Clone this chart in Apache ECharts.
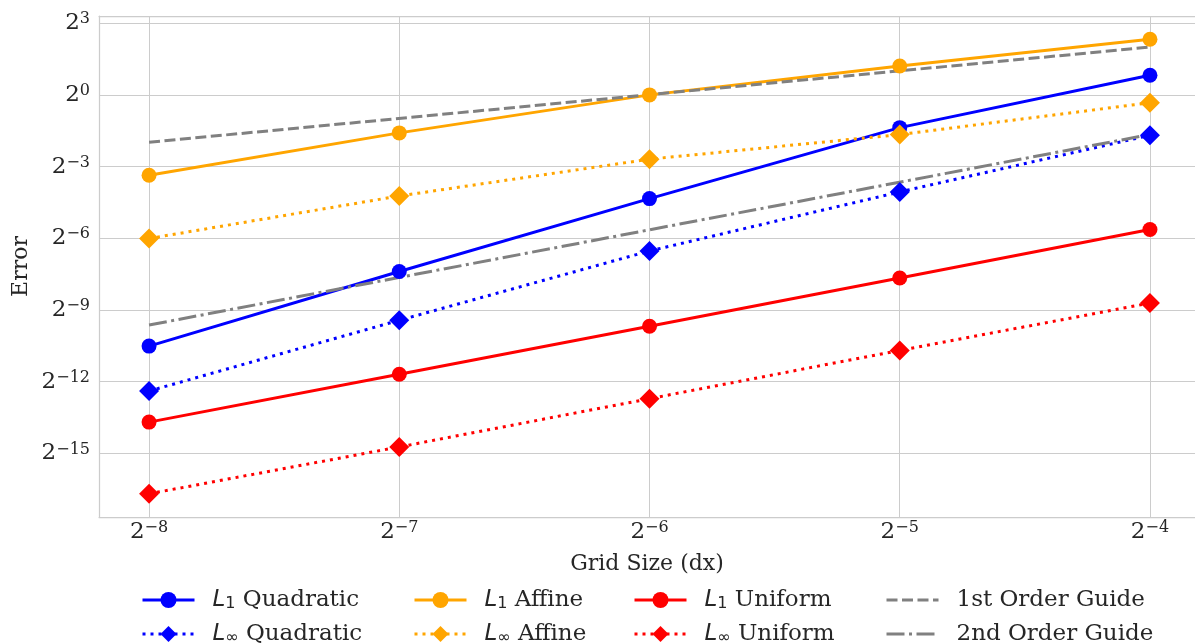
<!DOCTYPE html>
<html>
<head>
<meta charset="utf-8">
<script src="https://cdn.jsdelivr.net/npm/echarts@6/dist/echarts.min.js"></script>
<style>
html,body{margin:0;padding:0;background:#fff;}
#chart{width:1195px;height:644px;}
</style>
</head>
<body>
<div id="chart"></div>
<script>
// Grid size dx as log2 exponents (2^-8 ... 2^-4)
const gridSizeLog2 = [-8, -7, -6, -5, -4];
// Errors as log2 exponents
const l1QuadraticLog2   = [-10.51, -7.39, -4.34, -1.37, 0.82];
const linfQuadraticLog2 = [-12.39, -9.43, -6.53, -4.06, -1.69];
const l1AffineLog2      = [-3.36, -1.59, 0.00, 1.21, 2.33];
const linfAffineLog2    = [-6.01, -4.23, -2.69, -1.66, -0.33];
const l1UniformLog2     = [-13.69, -11.69, -9.68, -7.66, -5.63];
const linfUniformLog2   = [-16.69, -14.73, -12.71, -10.69, -8.71];
// Reference guides (endpoints at 2^-8 and 2^-4)
const guideX = [-8, -4];
const guide1Log2 = [-1.98, 2.0];
const guide2Log2 = [-9.63, -1.66];
// Tick exponents
const xTicks = [-8, -7, -6, -5, -4];
const yTicks = [-15, -12, -9, -6, -3, 0, 3];

const TXT = '#262626';
const GRID = '#cccccc';
const SERIF = 'DejaVu Serif';

function pair(xs, ys) { return xs.map((x, i) => [x, ys[i]]); }
function powLabel(v) {
  const e = Math.round(v);
  const s = e < 0 ? '\u2212' + (-e) : String(e);
  return '{b|2}{s|' + s + '}';
}
const powRich = {
  b: {fontFamily: SERIF, fontSize: 23, lineHeight: 24, color: TXT},
  s: {fontFamily: SERIF, fontSize: 16, lineHeight: 16, verticalAlign: 'top', color: TXT}
};

const W = 3;
const dotted = [3, 5];
const dashed = [11, 4.5];
const dashDot = [18, 4.5, 3, 4.5];

function mkSeries(name, ys, color, symbol, size, type) {
  return {
    name: name, type: 'line', data: pair(gridSizeLog2, ys),
    symbol: symbol, symbolSize: size, showSymbol: true,
    itemStyle: {color: color},
    lineStyle: {color: color, width: W, type: type},
    emphasis: {disabled: true}
  };
}

const series = [
  mkSeries('L1 Quadratic', l1QuadraticLog2, '#0000ff', 'circle', 15, 'solid'),
  mkSeries('Linf Quadratic', linfQuadraticLog2, '#0000ff', 'diamond', 20, dotted),
  mkSeries('L1 Affine', l1AffineLog2, '#ffa500', 'circle', 15, 'solid'),
  mkSeries('Linf Affine', linfAffineLog2, '#ffa500', 'diamond', 20, dotted),
  mkSeries('L1 Uniform', l1UniformLog2, '#ff0000', 'circle', 15, 'solid'),
  mkSeries('Linf Uniform', linfUniformLog2, '#ff0000', 'diamond', 20, dotted),
  {
    name: '1st Order Guide', type: 'line', data: pair(guideX, guide1Log2),
    symbol: 'none', itemStyle: {color: '#808080'},
    lineStyle: {color: '#808080', width: W, type: dashed}, emphasis: {disabled: true}
  },
  {
    name: '2nd Order Guide', type: 'line', data: pair(guideX, guide2Log2),
    symbol: 'none', itemStyle: {color: '#808080'},
    lineStyle: {color: '#808080', width: W, type: dashDot}, emphasis: {disabled: true}
  }
];

function legendFmt(name) {
  if (name.indexOf('L1 ') === 0) return '{i|L}{sub|1} ' + name.slice(3);
  if (name.indexOf('Linf ') === 0) return '{i|L}{sub|\u221e} ' + name.slice(5);
  return name;
}
function mkLegend(left, names) {
  return {
    orient: 'vertical', left: left, top: 588, height: 80, padding: 0,
    itemWidth: 52, itemHeight: 20, itemGap: 10,
    data: names, selectedMode: false,
    formatter: legendFmt,
    lineStyle: {width: 3},
    textStyle: {
      fontFamily: SERIF, fontSize: 23, color: TXT, lineHeight: 24,
      padding: [0, 0, 0, 13],
      rich: {
        i: {fontFamily: 'DejaVu Sans', fontStyle: 'italic', fontSize: 23, lineHeight: 24, color: TXT},
        sub: {fontFamily: 'DejaVu Sans', fontSize: 16, lineHeight: 14, verticalAlign: 'bottom', color: TXT}
      }
    }
  };
}
function guideItem(name) { return {name: name, itemStyle: {opacity: 0}}; }

const frameLine = {show: true, onZero: false, lineStyle: {color: GRID, width: 1.25}};

const option = {
  animation: false,
  backgroundColor: '#ffffff',
  grid: {left: 99, right: 0, top: 16, bottom: 127, show: false,
         containLabel: false, outerBoundsMode: 'none'},
  xAxis: [{
    type: 'value', min: -8.2, max: -3.82, position: 'bottom',
    name: 'Grid Size (dx)', nameLocation: 'middle', nameGap: 36, nameMoveOverlap: false,
    nameTextStyle: {fontFamily: SERIF, fontSize: 22, color: TXT},
    axisLine: frameLine, axisTick: {show: false, customValues: xTicks},
    axisLabel: {customValues: xTicks, formatter: powLabel, rich: powRich, margin: 3, color: TXT},
    splitLine: {show: true, lineStyle: {color: GRID, width: 1}}
  }, {
    type: 'value', min: -8.2, max: -3.82, position: 'top',
    axisLine: frameLine, axisTick: {show: false}, axisLabel: {show: false}, splitLine: {show: false}
  }],
  yAxis: {
    type: 'value', min: -17.66, max: 3.3,
    name: 'Error', nameLocation: 'middle', nameGap: 67, nameRotate: 90, nameMoveOverlap: false,
    nameTextStyle: {fontFamily: SERIF, fontSize: 22, color: TXT},
    axisLine: frameLine, axisTick: {show: false, customValues: yTicks},
    axisLabel: {customValues: yTicks, formatter: powLabel, rich: powRich, margin: 9, color: TXT},
    splitLine: {show: true, lineStyle: {color: GRID, width: 1}}
  },
  legend: [
    mkLegend(141, ['L1 Quadratic', 'Linf Quadratic']),
    mkLegend(413, ['L1 Affine', 'Linf Affine']),
    mkLegend(633, ['L1 Uniform', 'Linf Uniform']),
    mkLegend(885, [guideItem('1st Order Guide'), guideItem('2nd Order Guide')])
  ],
  series: series
};

const chart = echarts.init(document.getElementById('chart'), null, {renderer: 'canvas'});
chart.setOption(option);
</script>
</body>
</html>
